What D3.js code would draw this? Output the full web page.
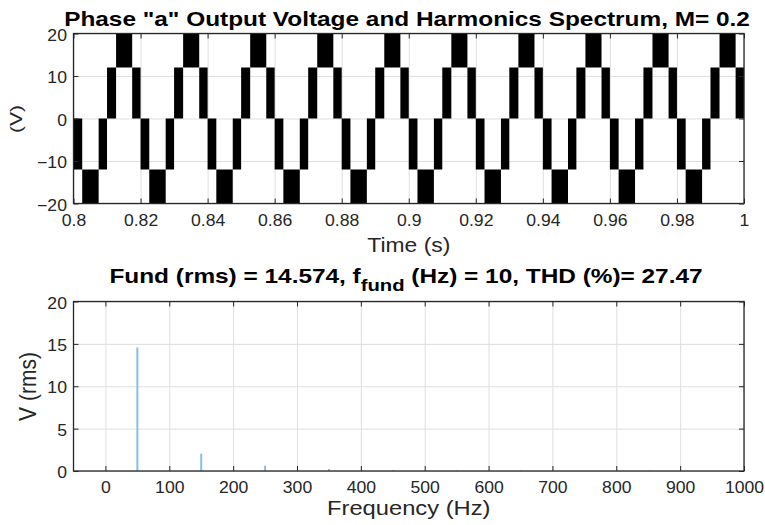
<!DOCTYPE html>
<html>
<head>
<meta charset="utf-8">
<script src="https://cdn.jsdelivr.net/npm/d3@7"></script>
<style>
  body { margin: 0; background: #fff; }
  svg { display: block; font-family: "Liberation Sans", Arial, Helvetica, sans-serif; }
  .grid path { display: none; }
  .grid line { stroke: #dfdfdf; stroke-width: 1; }
  .ticks path { display: none; }
  .ticks line { stroke: #262626; stroke-width: 1; }
  .ticks text { fill: #262626; font-size: 16px; }
  .box { fill: none; stroke: #262626; stroke-width: 1.3; }
</style>
</head>
<body>
<svg id="chart" width="765" height="525"></svg>
<script>
// ---- output voltage: one cycle every 20 ms, each cycle made of switching bands
const cycleStarts = [0.80, 0.82, 0.84, 0.86, 0.88, 0.90, 0.92, 0.94, 0.96, 0.98];
const bandFrom = [0.0000, 0.0026, 0.0075, 0.0100, 0.0127, 0.0175];
const bandTo   = [0.0026, 0.0075, 0.0100, 0.0127, 0.0175, 0.0200];
const bandLow  = [-12, -24, -12, 0, 12, 0];
const bandHigh = [0, -12, 0, 12, 24, 12];

const timeTicks = [0.8, 0.82, 0.84, 0.86, 0.88, 0.9, 0.92, 0.94, 0.96, 0.98, 1];
const timeLabels = ["0.8", "0.82", "0.84", "0.86", "0.88", "0.9", "0.92", "0.94", "0.96", "0.98", "1"];
const voltTicks = [-20, -10, 0, 10, 20];

// ---- harmonic spectrum
const harmFreq = [50, 150, 250, 350, 450, 550, 650, 750, 850, 950];
const harmRms  = [14.574, 2.05, 0.62, 0.25, 0.1, 0.06, 0.05, 0.03, 0.05, 0.03];
const freqTicks = [0, 100, 200, 300, 400, 500, 600, 700, 800, 900, 1000];
const rmsTicks = [0, 5, 10, 15, 20];

const svg = d3.select("#chart");
svg.append("rect").attr("width", 765).attr("height", 525).attr("fill", "#fff");

const left = 73.5, right = 744;
const top1 = 33.5, bottom1 = 203.5;
const top2 = 301.5, bottom2 = 471;

const xTime = d3.scaleLinear().domain([0.8, 1]).range([left, right]);
const yVolt = d3.scaleLinear().domain([-20, 20]).range([bottom1, top1]).clamp(true);
const xFreq = d3.scaleLinear().domain([-50, 1000]).range([left, right]);
const yRms = d3.scaleLinear().domain([0, 20]).range([bottom2, top2]);

// text with a horizontal stretch, like the resized figure
function stretchedText(str, x, y, size, sx, opts = {}) {
    const t = svg.append("text")
        .attr("transform", `translate(${x},${y}) scale(${sx},1)` + (opts.rotate ? ` rotate(${opts.rotate})` : ""))
        .attr("text-anchor", "middle")
        .attr("font-size", size)
        .attr("font-weight", opts.bold ? "bold" : null)
        .attr("fill", opts.bold ? "#000" : "#262626");
    if (str !== null) t.text(str);
    return t;
}

function drawGrid(x, y, xTicks, yTicks, top, bottom) {
    svg.append("g").attr("class", "grid")
        .attr("transform", `translate(0,${bottom})`)
        .call(d3.axisBottom(x).tickValues(xTicks).tickSize(-(bottom - top)).tickFormat(""));
    svg.append("g").attr("class", "grid")
        .attr("transform", `translate(${left},0)`)
        .call(d3.axisLeft(y).tickValues(yTicks).tickSize(-(right - left)).tickFormat(""));
}

function drawFrame(x, y, xTicks, yTicks, xFmt, top, bottom, xPad) {
    svg.append("rect").attr("class", "box")
        .attr("x", left).attr("y", top)
        .attr("width", right - left).attr("height", bottom - top);

    const bx = svg.append("g").attr("class", "ticks")
        .attr("transform", `translate(0,${bottom})`)
        .call(d3.axisBottom(x).tickValues(xTicks).tickSize(-5).tickPadding(xPad).tickFormat(xFmt));
    bx.selectAll("text").attr("transform", "scale(1.1,1)");

    svg.append("g").attr("class", "ticks")
        .attr("transform", `translate(0,${top})`)
        .call(d3.axisTop(x).tickValues(xTicks).tickSize(-5).tickFormat(""));

    const ly = svg.append("g").attr("class", "ticks")
        .attr("transform", `translate(${left},0)`)
        .call(d3.axisLeft(y).tickValues(yTicks).tickSize(-5).tickPadding(6));
    ly.selectAll("text").attr("dy", "0.42em").attr("transform", "scale(1.1,1)");

    svg.append("g").attr("class", "ticks")
        .attr("transform", `translate(${right},0)`)
        .call(d3.axisRight(y).tickValues(yTicks).tickSize(-5).tickFormat(""));
}

// ---- top: voltage waveform
drawGrid(xTime, yVolt, timeTicks, voltTicks, top1, bottom1);

const bands = [];
cycleStarts.forEach(c => {
    bandFrom.forEach((f, i) => {
        bands.push({t0: c + f, t1: c + bandTo[i], lo: bandLow[i], hi: bandHigh[i]});
    });
});

svg.append("g")
    .selectAll("rect")
    .data(bands)
    .enter().append("rect")
    .attr("x", d => xTime(d.t0))
    .attr("width", d => xTime(d.t1) - xTime(d.t0))
    .attr("y", d => yVolt(d.hi))
    .attr("height", d => yVolt(d.lo) - yVolt(d.hi))
    .attr("fill", "#000");

drawFrame(xTime, yVolt, timeTicks, voltTicks, (d, i) => timeLabels[i], top1, bottom1, 11.5);

// ---- bottom: harmonic spectrum
drawGrid(xFreq, yRms, freqTicks, rmsTicks, top2, bottom2);

svg.append("g")
    .selectAll("line")
    .data(harmFreq)
    .enter().append("line")
    .attr("x1", d => xFreq(d))
    .attr("x2", d => xFreq(d))
    .attr("y1", yRms(0))
    .attr("y2", (d, i) => yRms(harmRms[i]))
    .attr("stroke", "#86bfe8")
    .attr("stroke-width", 2);

drawFrame(xFreq, yRms, freqTicks, rmsTicks, d3.format("d"), top2, bottom2, 10.5);

// ---- titles and labels
stretchedText('Phase "a" Output Voltage and Harmonics Spectrum, M= 0.2', 407, 26, 20.5, 1.19, {bold: true});

const t2 = stretchedText(null, 406, 282.7, 20.5, 1.19, {bold: true});
t2.append("tspan").text("Fund (rms) = 14.574, f");
t2.append("tspan").attr("font-size", 17).attr("dy", 8).text("fund");
t2.append("tspan").attr("dy", -8).text(" (Hz) = 10, THD (%)= 27.47");

stretchedText("Time (s)", 408.8, 251.7, 21, 1.09);
stretchedText("Frequency (Hz)", 408.7, 515, 21, 1.13);
stretchedText("(V)", 22, 119, 21, 0.8, {rotate: -90});
stretchedText("V (rms)", 36.4, 386.5, 21, 1.18, {rotate: -90});
</script>
</body>
</html>
